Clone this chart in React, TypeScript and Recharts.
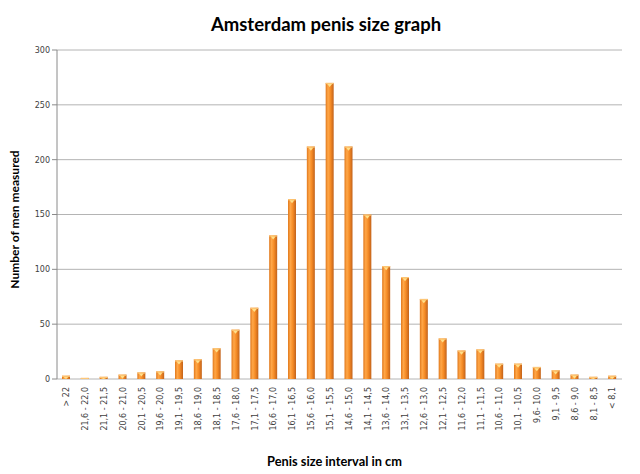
import React from 'react';
import { BarChart, Bar, XAxis, YAxis, CartesianGrid } from 'recharts';

const categories = [
  '> 22', '21,6 - 22,0', '21,1 - 21,5', '20,6 - 21,0', '20,1 - 20,5', '19,6 - 20,0',
  '19,1 - 19,5', '18,6 - 19,0', '18,1 - 18,5', '17,6 - 18,0', '17,1 - 17,5', '16,6 - 17,0',
  '16,1 - 16,5', '15,6 - 16,0', '15,1 - 15,5', '14,6 - 15,0', '14,1 - 14,5', '13,6 - 14,0',
  '13,1 - 13,5', '12,6 - 13,0', '12,1 - 12,5', '11,6 - 12,0', '11,1 - 11,5', '10,6 - 11,0',
  '10,1 - 10,5', '9,6- 10,0', '9,1 - 9,5', '8,6 - 9,0', '8,1 - 8,5', '< 8,1',
];

const menMeasured = [
  3, 1, 2, 4, 6, 7,
  17, 18, 28, 45, 65, 131,
  164, 212, 270, 212, 150, 103,
  93, 73, 37, 26, 27, 14,
  14, 11, 8, 4, 2, 3,
];

const yTicks = [0, 50, 100, 150, 200, 250, 300];
const bandEdges = [0, 1, 2, 3, 4, 5, 6, 7, 8, 9, 10, 11, 12, 13, 14, 15, 16, 17, 18, 19, 20, 21, 22, 23, 24, 25, 26, 27, 28, 29, 30];

const data = categories.map((label, i) => ({ label, value: menMeasured[i] }));

const CylinderBar = (props: any) => {
  const { x, y, width, height } = props;
  if (!(height > 0)) return null;
  const cap = Math.min(1.2, height);
  const tri = Math.min(3, Math.max(0, height - cap));
  return (
    <g>
      <rect x={x} y={y} width={width} height={height} fill="url(#barGrad)" />
      <rect x={x} y={y} width={width} height={cap} fill="#fdc777" />
      {tri > 0 && (
        <path
          d={`M${x + width * 0.2},${y + cap} L${x + width * 0.8},${y + cap} L${x + width * 0.5},${y + cap + tri} Z`}
          fill="#ffe08a"
        />
      )}
    </g>
  );
};

const XTick = (props: any) => {
  const { x, y, payload } = props;
  return (
    <g transform={`translate(${x},${y})`}>
      <text
        transform="rotate(-90)"
        textAnchor="end"
        dy="0.35em"
        fontFamily="DejaVu Sans"
        fontSize={8}
        fill="#404040"
      >
        {payload.value}
      </text>
    </g>
  );
};

export default function App() {
  return (
    <div style={{ position: 'absolute', left: 0, top: 0, width: 640, height: 474, background: '#fff' }}>
      <svg width={0} height={0} style={{ position: 'absolute' }}>
        <defs>
          <linearGradient id="barGrad" x1="0" y1="0" x2="1" y2="0">
            <stop offset="0%" stopColor="#e0781c" />
            <stop offset="30%" stopColor="#ffa748" />
            <stop offset="60%" stopColor="#f68c26" />
            <stop offset="100%" stopColor="#c2621a" />
          </linearGradient>
        </defs>
      </svg>
      <BarChart
        width={640}
        height={474}
        data={data}
        margin={{ top: 50, right: 18, left: 0, bottom: 0 }}
      >
        <text x={326} y={31} textAnchor="middle" fontFamily="Lato" fontWeight={700} fontSize={18.5} fill="#000">
          Amsterdam penis size graph
        </text>
        <CartesianGrid xAxisId="cat" vertical={false} stroke="#b4b4b4" />
        <XAxis
          xAxisId="edges"
          type="number"
          domain={[0, 30]}
          ticks={bandEdges}
          allowDataOverflow
          height={0}
          tick={false}
          tickSize={5}
          tickLine={{ stroke: '#8a8a8a' }}
          axisLine={{ stroke: '#8a8a8a' }}
        />
        <XAxis
          xAxisId="cat"
          dataKey="label"
          interval={0}
          height={95}
          tickLine={false}
          axisLine={false}
          tick={<XTick />}
          label={(p: any) => {
            const vb = p.viewBox;
            return (
              <text
                x={vb.x + vb.width / 2 - 5}
                y={vb.y + vb.height - 8}
                textAnchor="middle"
                fontFamily="Lato"
                fontWeight={700}
                fontSize={12.8}
                fill="#000"
              >
                Penis size interval in cm
              </text>
            );
          }}
        />
        <YAxis
          width={57}
          domain={[0, 300]}
          ticks={yTicks}
          interval={0}
          tickSize={5}
          tickLine={{ stroke: '#8a8a8a' }}
          axisLine={{ stroke: '#8a8a8a' }}
          tick={{ fontFamily: 'DejaVu Sans', fontSize: 8, fill: '#404040' }}
          label={(p: any) => {
            const vb = p.viewBox;
            const cx = 14;
            const cy = vb.y + vb.height / 2 + 5;
            return (
              <text
                x={cx}
                y={cy}
                transform={`rotate(-90, ${cx}, ${cy})`}
                textAnchor="middle"
                dominantBaseline="central"
                fontFamily="Lato"
                fontWeight={700}
                fontSize={12}
                fill="#000"
              >
                Number of men measured
              </text>
            );
          }}
        />
        <Bar xAxisId="cat" dataKey="value" barSize={8} shape={<CylinderBar />} isAnimationActive={false} />
      </BarChart>
    </div>
  );
}
